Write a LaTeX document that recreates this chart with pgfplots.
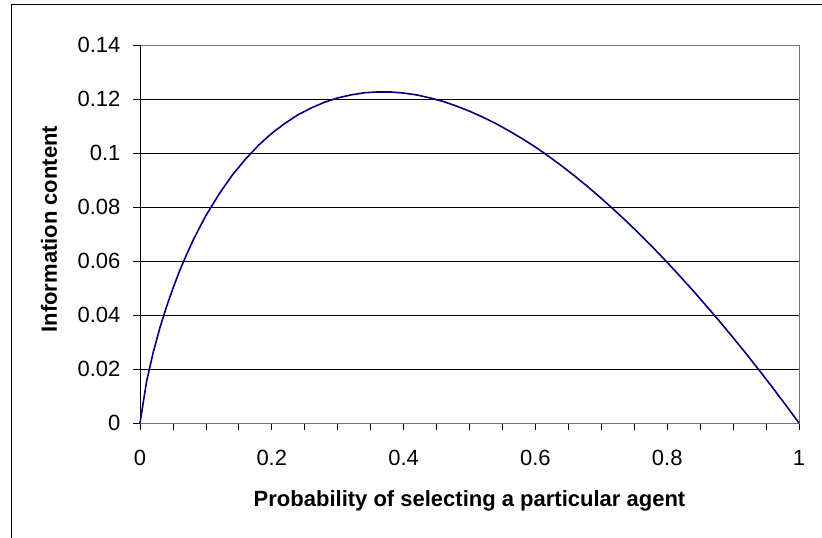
\documentclass[border=0pt]{standalone}
\usepackage{fontspec}
\setmainfont{Liberation Sans}
\usepackage{pgfplots}
\pgfplotsset{compat=1.18}
\definecolor{curve}{HTML}{000080}
\begin{document}
\begin{tikzpicture}[x=1pt,y=1pt,font=\fontsize{22}{26}\selectfont]
\useasboundingbox (0,0) rectangle (822,538);
\draw[line width=1pt] (11,-20) -- (11,533) -- (840,533);
\begin{axis}[
  at={(140pt,115pt)}, anchor=south west,
  scale only axis, width=659pt, height=378pt,
  xmin=0, xmax=1, ymin=0, ymax=0.14,
  xtick={0,0.2,0.4,0.6,0.8,1},
  xticklabels={0,0.2,0.4,0.6,0.8,1},
  minor xtick={0.05,0.1,0.15,0.25,0.3,0.35,0.45,0.5,0.55,0.65,0.7,0.75,0.85,0.9,0.95},
  ytick={0,0.02,0.04,0.06,0.08,0.1,0.12,0.14},
  yticklabels={0,0.02,0.04,0.06,0.08,0.1,0.12,0.14},
  xtick pos=left, ytick pos=left,
  tick align=outside, major tick length=7pt, minor tick length=7pt,
  tick style={black, line width=0.8pt},
  ymajorgrids, major grid style={black, line width=0.8pt},
  axis line style={black!55, line width=0.8pt},
  every tick label/.append style={font=\fontsize{22}{26}\selectfont},
  xticklabel style={yshift=-17pt},
  yticklabel style={xshift=-9pt},
  xlabel={\bfseries Probability of selecting a particular agent},
  ylabel={\bfseries Information content},
  xlabel style={at={(axis description cs:0.5,-0.2196)}, anchor=base, font=\fontsize{22}{26}\selectfont},
  ylabel style={at={(axis description cs:-0.126,0.513)}, anchor=base, rotate=0, font=\fontsize{22}{26}\selectfont},
  clip=false,
]
\draw[black, line width=0.8pt] (axis cs:0,0) -- (axis cs:0,0.14);
\addplot[curve, line width=1.6pt, mark=none] coordinates {
(0,0) (0.01,0.0154) (0.02,0.0261) (0.03,0.0351) (0.04,0.0429) (0.05,0.0499)
(0.06,0.0563) (0.07,0.0620) (0.08,0.0674) (0.09,0.0722) (0.10,0.0768)
(0.12,0.0848) (0.14,0.0918) (0.16,0.0977) (0.18,0.1029) (0.20,0.1073)
(0.22,0.1110) (0.24,0.1142) (0.26,0.1167) (0.28,0.1188) (0.30,0.1204)
(0.32,0.1215) (0.34,0.1223) (0.36,0.1226) (0.38,0.1226) (0.40,0.1222)
(0.42,0.1215) (0.44,0.1204) (0.46,0.1191) (0.48,0.1174) (0.50,0.1155)
(0.52,0.1133) (0.54,0.1109) (0.56,0.1082) (0.58,0.1053) (0.60,0.1022)
(0.62,0.0988) (0.64,0.0952) (0.66,0.0914) (0.68,0.0874) (0.70,0.0832)
(0.72,0.0788) (0.74,0.0743) (0.76,0.0695) (0.78,0.0646) (0.80,0.0595)
(0.82,0.0542) (0.84,0.0488) (0.86,0.0432) (0.88,0.0375) (0.90,0.0316)
(0.92,0.0256) (0.94,0.0194) (0.96,0.0131) (0.98,0.0066) (0.99,0.0033) (1,0)
};
\end{axis}
\end{tikzpicture}
\end{document}
